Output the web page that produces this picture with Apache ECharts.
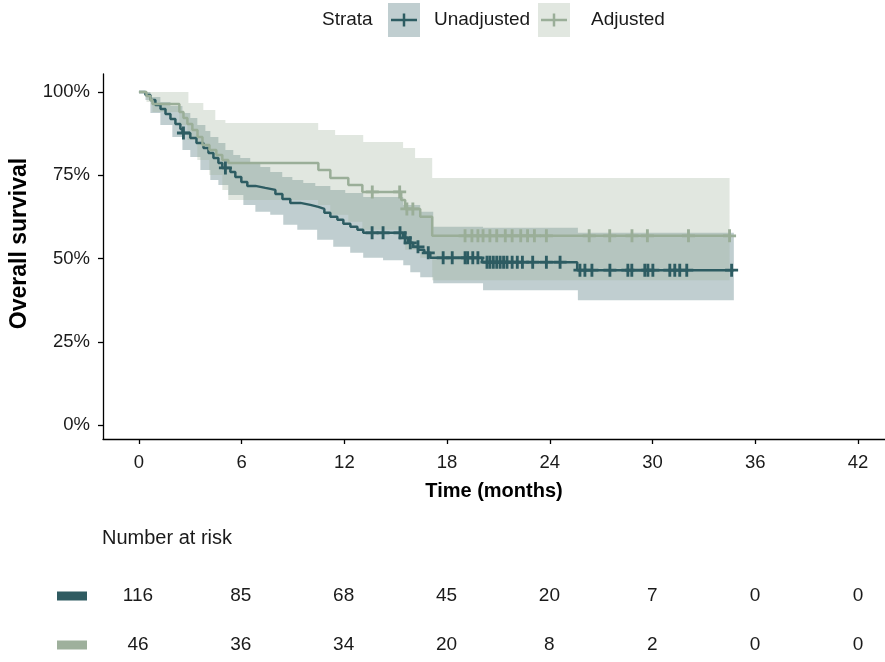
<!DOCTYPE html>
<html>
<head>
<meta charset="utf-8">
<script src="https://cdn.jsdelivr.net/npm/echarts@6/dist/echarts.min.js"></script>
<style>
  html, body { margin: 0; padding: 0; background: #ffffff; }
  #chart { width: 885px; height: 662px; }
</style>
</head>
<body>
<div id="chart"></div>
<script>
// ---- strata ----
const strataNames = ['Unadjusted', 'Adjusted'];
const strataColors = ['#2d5c62', '#9aae98'];
const bandColors = ['rgba(45,92,98,0.30)', 'rgba(154,174,152,0.30)'];

// ---- axes ----
const xTicks = [0, 6, 12, 18, 24, 30, 36, 42];
const yTicks = [0, 0.25, 0.5, 0.75, 1];

// ---- Unadjusted: Kaplan-Meier estimate (months, survival) ----
const unadjTime = [0, 0.38, 0.67, 0.96, 1.26, 1.55, 1.84, 2.13, 2.42, 2.54, 3.0, 3.36, 3.77, 4.06, 4.35, 4.64, 4.87, 5.34, 5.63, 5.98, 6.33, 6.8, 7.38, 7.97, 8.38, 8.84, 9.43, 10.01, 10.48, 10.83, 11.18, 11.59, 11.94, 12.35, 12.76, 13.1, 15.44, 15.73, 16.02, 16.31, 16.67, 17.02, 20.05, 25.6, 34.75];
const unadjSurv = [1, 0.991, 0.976, 0.961, 0.949, 0.934, 0.919, 0.904, 0.889, 0.877, 0.862, 0.847, 0.832, 0.817, 0.802, 0.787, 0.772, 0.760, 0.745, 0.730, 0.718, 0.712, 0.706, 0.694, 0.679, 0.667, 0.661, 0.655, 0.649, 0.637, 0.625, 0.616, 0.604, 0.595, 0.586, 0.577, 0.562, 0.547, 0.535, 0.526, 0.517, 0.502, 0.489, 0.465, 0.465];
const unadjCensor = [2.6, 5.05, 13.62, 14.26, 15.25, 15.55, 15.85, 16.3, 16.9, 17.77, 18.3, 19.05, 19.2, 19.5, 19.8, 20.33, 20.5, 20.7, 20.9, 21.1, 21.3, 21.5, 21.8, 22.1, 22.4, 23.0, 23.8, 24.6, 25.76, 26.05, 26.46, 27.51, 28.56, 28.79, 29.55, 29.73, 30.02, 31.01, 31.3, 31.59, 32.0, 34.62];
// 95% confidence band
const unadjUpperTime = [0, 0.67, 1.25, 1.84, 2.54, 3.0, 3.41, 3.88, 4.17, 4.64, 5.05, 5.51, 5.92, 6.5, 7.09, 7.67, 8.37, 8.96, 9.6, 10.3, 11.18, 12.05, 13.1, 15.44, 16.43, 17.19, 20.1, 25.64];
const unadjUpper = [1, 0.985, 0.970, 0.958, 0.937, 0.922, 0.901, 0.883, 0.865, 0.847, 0.826, 0.811, 0.802, 0.787, 0.775, 0.760, 0.745, 0.736, 0.727, 0.718, 0.706, 0.697, 0.685, 0.661, 0.640, 0.595, 0.592, 0.577];
const unadjLowerTime = [0, 0.38, 0.67, 1.25, 1.95, 2.54, 3.0, 3.59, 4.17, 4.64, 5.22, 6.1, 6.8, 7.67, 8.43, 9.25, 10.41, 11.35, 12.34, 13.1, 14.26, 15.44, 15.85, 16.43, 17.19, 20.1, 25.64];
const unadjLower = [1, 0.976, 0.937, 0.901, 0.865, 0.826, 0.805, 0.766, 0.736, 0.721, 0.691, 0.661, 0.640, 0.631, 0.601, 0.586, 0.556, 0.535, 0.517, 0.502, 0.495, 0.480, 0.459, 0.444, 0.426, 0.405, 0.375];
const unadjEnd = 34.75;

// ---- Adjusted: Kaplan-Meier estimate (months, survival) ----
const adjTime = [0, 0.44, 0.67, 0.79, 2.36, 2.6, 2.83, 3.12, 3.42, 3.71, 4.12, 4.52, 4.87, 5.22, 10.48, 11.18, 12.23, 13.05, 15.32, 15.55, 16.43, 17.13, 34.5];
const adjSurv = [1, 0.988, 0.976, 0.964, 0.940, 0.922, 0.904, 0.886, 0.865, 0.841, 0.826, 0.811, 0.796, 0.787, 0.766, 0.742, 0.721, 0.700, 0.676, 0.649, 0.625, 0.568, 0.568];
const adjCensor = [13.63, 15.23, 15.65, 16.0, 19.05, 19.45, 19.8, 20.1, 20.5, 20.9, 21.4, 21.8, 22.3, 22.7, 23.1, 23.8, 26.3, 27.5, 28.8, 29.7, 32.1, 34.5];
// 95% confidence band
const adjUpperTime = [0, 2.89, 3.76, 4.46, 5.05, 10.47, 11.46, 13.1, 15.43, 16.13, 17.13];
const adjUpper = [1, 0.967, 0.946, 0.916, 0.907, 0.886, 0.871, 0.850, 0.832, 0.802, 0.742];
const adjLowerTime = [0, 0.44, 0.79, 2.36, 2.83, 3.41, 4.11, 4.87, 5.22, 10.47, 11.18, 12.23, 13.05, 15.32, 15.55, 16.43, 17.13];
const adjLower = [1, 0.970, 0.940, 0.901, 0.856, 0.796, 0.751, 0.706, 0.676, 0.661, 0.631, 0.610, 0.586, 0.556, 0.526, 0.502, 0.435];
const adjEnd = 34.5;

// ---- number at risk ----
const riskTimes = [0, 6, 12, 18, 24, 30, 36, 42];
const riskUnadj = [116, 85, 68, 45, 20, 7, 0, 0];
const riskAdj = [46, 36, 34, 20, 8, 2, 0, 0];

// ---- helpers ----
function zip(a, b) { return a.map((v, i) => [v, b[i]]); }
function stepValue(times, vals, t) {
  let v = vals[0];
  for (let i = 0; i < times.length; i++) { if (times[i] <= t) v = vals[i]; }
  return v;
}
function stepPoints(times, vals, tEnd) {
  const pts = [];
  for (let i = 0; i < times.length; i++) {
    const next = i + 1 < times.length ? times[i + 1] : tEnd;
    pts.push([times[i], vals[i]]);
    pts.push([next, vals[i]]);
  }
  return pts;
}
function bandSeries(upT, up, loT, lo, tEnd, fill) {
  return {
    type: 'custom', xAxisIndex: 0, yAxisIndex: 0, silent: true, z: 1,
    data: [[0, 1]],
    renderItem: function (params, api) {
      if (params.dataIndex !== 0) return;
      const upper = stepPoints(upT, up, tEnd);
      const lower = stepPoints(loT, lo, tEnd).reverse();
      const pts = upper.concat(lower).map(p => api.coord(p));
      return { type: 'polygon', shape: { points: pts }, style: { fill: fill } };
    }
  };
}
// "+" censor mark
const plusPath = 'path://M3.9,0H6.1V3.9H10V6.1H6.1V10H3.9V6.1H0V3.9H3.9Z';

const xMin = -2.1, xMax = 43.58;
const font = 'Liberation Sans, Arial, sans-serif';

const chart = echarts.init(document.getElementById('chart'), null, { renderer: 'canvas' });

function legendKey(x, color, band) {
  return {
    type: 'group', left: x, top: 3,
    children: [
      { type: 'rect', shape: { x: 0, y: 0, width: 32, height: 34 }, style: { fill: band } },
      { type: 'line', shape: { x1: 3, y1: 17, x2: 29, y2: 17 }, style: { stroke: color, lineWidth: 2.5 } },
      { type: 'line', shape: { x1: 16, y1: 10.5, x2: 16, y2: 23.5 }, style: { stroke: color, lineWidth: 2.5 } }
    ]
  };
}

chart.setOption({
  animation: false,
  backgroundColor: '#ffffff',
  textStyle: { fontFamily: font },
  grid: [
    { left: 102, right: 0, top: 74, bottom: 223, containLabel: false },
    { left: 102, right: 0, top: 596, bottom: 17, containLabel: false }
  ],
  xAxis: [
    {
      type: 'value', gridIndex: 0, min: xMin, max: xMax,
      name: 'Time (months)', nameLocation: 'middle', nameGap: 42,
      nameTextStyle: { fontSize: 20, fontWeight: 'bold', color: '#000', fontFamily: font },
      axisLine: { show: true, onZero: false, lineStyle: { color: '#000', width: 1.3 } },
      axisTick: { show: true, length: 5, customValues: xTicks, lineStyle: { color: '#000', width: 1.3 } },
      axisLabel: { customValues: xTicks, fontSize: 18.5, color: '#1a1a1a', margin: 14, fontFamily: font },
      splitLine: { show: false }
    },
    {
      type: 'value', gridIndex: 1, min: xMin, max: xMax, show: false
    }
  ],
  yAxis: [
    {
      type: 'value', gridIndex: 0, min: -0.042, max: 1.054,
      name: 'Overall survival', nameLocation: 'middle', nameGap: 72, nameRotate: 90,
      nameTextStyle: { fontSize: 23, fontWeight: 'bold', color: '#000', fontFamily: font, padding: [0, 0, 0, 26] },
      axisLine: { show: true, onZero: false, lineStyle: { color: '#000', width: 1.3 } },
      axisTick: { show: true, length: 5, customValues: yTicks, lineStyle: { color: '#000', width: 1.3 } },
      axisLabel: {
        customValues: yTicks, fontSize: 18.5, color: '#1a1a1a', margin: 13, fontFamily: font,
        formatter: v => Math.round(v * 100) + '%'
      },
      splitLine: { show: false }
    },
    {
      type: 'value', gridIndex: 1, min: 0, max: 1, inverse: true, show: false
    }
  ],
  graphic: [
    { type: 'text', left: 322, top: 10, style: { text: 'Strata', fontSize: 19, fill: '#1a1a1a', fontFamily: font } },
    legendKey(388, strataColors[0], bandColors[0]),
    { type: 'text', left: 434, top: 10, style: { text: strataNames[0], fontSize: 19, fill: '#1a1a1a', fontFamily: font } },
    legendKey(538, strataColors[1], bandColors[1]),
    { type: 'text', left: 591, top: 10, style: { text: strataNames[1], fontSize: 19, fill: '#1a1a1a', fontFamily: font } },
    { type: 'text', left: 102, top: 528, style: { text: 'Number at risk', fontSize: 20, fill: '#1a1a1a', fontFamily: font } }
  ],
  series: [
    bandSeries(unadjUpperTime, unadjUpper, unadjLowerTime, unadjLower, unadjEnd, bandColors[0]),
    bandSeries(adjUpperTime, adjUpper, adjLowerTime, adjLower, adjEnd, bandColors[1]),
    {
      name: strataNames[0], type: 'line', step: 'end', xAxisIndex: 0, yAxisIndex: 0, z: 3,
      data: zip(unadjTime, unadjSurv), symbol: 'none',
      lineStyle: { color: strataColors[0], width: 2.5 }
    },
    {
      name: strataNames[1], type: 'line', step: 'end', xAxisIndex: 0, yAxisIndex: 0, z: 3,
      data: zip(adjTime, adjSurv), symbol: 'none',
      lineStyle: { color: strataColors[1], width: 2.5 }
    },
    {
      type: 'scatter', xAxisIndex: 0, yAxisIndex: 0, z: 4, silent: true,
      data: unadjCensor.map(t => [t, stepValue(unadjTime, unadjSurv, t)]),
      symbol: plusPath, symbolSize: 13, itemStyle: { color: strataColors[0], opacity: 1 }
    },
    {
      type: 'scatter', xAxisIndex: 0, yAxisIndex: 0, z: 4, silent: true,
      data: adjCensor.map(t => [t, stepValue(adjTime, adjSurv, t)]),
      symbol: plusPath, symbolSize: 13, itemStyle: { color: strataColors[1], opacity: 1 }
    },
    // number-at-risk table
    {
      type: 'scatter', xAxisIndex: 1, yAxisIndex: 1, silent: true, clip: false,
      data: riskTimes.map((t, i) => [t, 0, riskUnadj[i]]).concat(riskTimes.map((t, i) => [t, 1, riskAdj[i]])),
      symbolSize: 0, itemStyle: { opacity: 1 },
      label: { show: true, position: 'inside', formatter: p => String(p.value[2]), fontSize: 19, color: '#1a1a1a', fontFamily: font }
    },
    {
      type: 'scatter', xAxisIndex: 1, yAxisIndex: 1, silent: true, clip: false,
      data: [{ value: [-3.85, 0], itemStyle: { color: '#2f5b61', opacity: 1 } }, { value: [-3.85, 1], itemStyle: { color: '#9eb09c', opacity: 1 } }],
      symbol: 'rect', symbolSize: [30, 9]
    }
  ]
});
</script>
</body>
</html>
